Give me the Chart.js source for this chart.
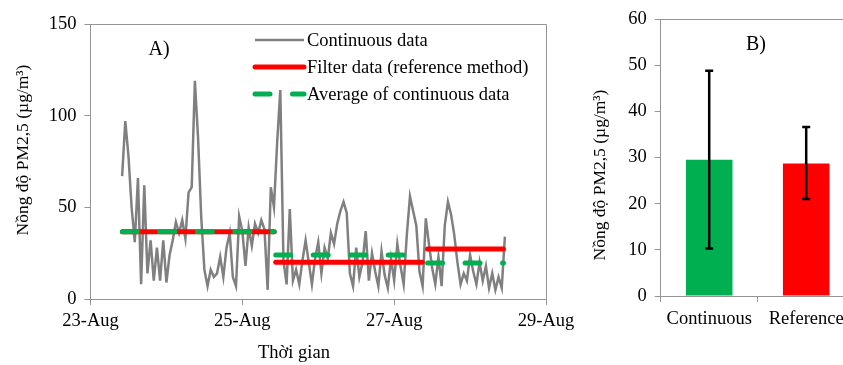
<!DOCTYPE html>
<html>
<head>
<meta charset="utf-8">
<script src="https://cdn.jsdelivr.net/npm/chart.js@4.4.1/dist/chart.umd.min.js"></script>
<style>
  html, body { margin: 0; padding: 0; background: #fff; overflow: hidden; width: 843px; height: 365px; }
  #wrapA { position: absolute; left: 0; top: 0; width: 590px; height: 365px; }
  #wrapB { position: absolute; left: 575px; top: 0; width: 300px; height: 365px; }
</style>
</head>
<body>
<div id="wrapA"><canvas id="chartA" width="590" height="365"></canvas></div>
<div id="wrapB"><canvas id="chartB" width="300" height="365"></canvas></div>
<script>
// Panel A: Zeitreihe (x in Tagen ab 23-Aug 00:00)
const xTickLabels = ['23-Aug', '25-Aug', '27-Aug', '29-Aug'];
const contStartDay = 10 / 24;   // erster Messwert 23-Aug 10:00
const contStepDay = 1 / 24;     // stündlich
const contValues = [
  67, 97, 78, 50, 31, 66, 8, 62, 14, 32, 10, 28, 10, 32, 9, 24, 32, 42, 36, 43,
  33, 58, 61, 119, 88, 45, 16, 7, 16, 12, 14, 23, 12, 28, 36, 12, 7, 45, 37, 18,
  39, 29, 41, 36, 43, 38, 5, 61, 50, 85, 114, 21, 8, 49, 10, 16, 8, 21, 32, 20,
  8, 22, 31, 14, 28, 22, 36, 30, 41, 48, 53, 47, 14, 7, 28, 12, 20, 37, 10, 25,
  15, 7, 26, 13, 6, 22, 10, 30, 18, 8, 35, 56, 48, 40, 15, 7, 44, 30, 17, 8,
  23, 7, 40, 53, 46, 35, 20, 8, 14, 10, 24, 15, 8, 20, 10, 18, 6, 14, 5, 12,
  6, 34
];
const periodStart = [0.42, 2.44, 4.44];
const periodEnd = [2.42, 4.37, 5.44];
const filterValues = [36.7, 20.0, 27.3];
const avgValues = [36.7, 24.0, 19.6];

// Panel B: Mittelwerte mit Fehlerbalken
const barLabels = ['Continuous', 'Reference'];
const barValues = [29.5, 28.7];
const barErrLow = [10.3, 21.0];
const barErrHigh = [48.8, 36.6];

const serif = "'Liberation Serif', 'Times New Roman', serif";
const axisGray = '#959595';
Chart.defaults.font.family = serif;
Chart.defaults.font.size = 18.5;
Chart.defaults.color = '#000';

// Stufenlinien mit Lücken zwischen den Perioden
function periodPoints(values) {
  const pts = [];
  values.forEach((v, i) => {
    if (i > 0) pts.push({x: periodStart[i], y: null});
    pts.push({x: periodStart[i], y: v});
    pts.push({x: periodEnd[i], y: v});
  });
  return pts;
}

const contPoints = contValues.map((v, i) => ({x: contStartDay + i * contStepDay, y: v}));

// Rahmen oben und rechts um den Plotbereich
const frame = {
  id: 'frame',
  beforeDatasetsDraw(chart) {
    const {ctx, chartArea: a} = chart;
    ctx.save();
    ctx.strokeStyle = axisGray;
    ctx.lineWidth = 1;
    ctx.beginPath();
    ctx.moveTo(a.left, Math.round(a.top) + 0.5);
    ctx.lineTo(Math.round(a.right) + 0.5, Math.round(a.top) + 0.5);
    ctx.lineTo(Math.round(a.right) + 0.5, a.bottom);
    ctx.stroke();
    ctx.restore();
  }
};

// Achsentitel und Panelbeschriftung
const notes = {
  id: 'notes',
  afterDraw(chart, args, opts) {
    const ctx = chart.ctx;
    ctx.save();
    ctx.fillStyle = '#000';
    ctx.textAlign = 'center';
    ctx.textBaseline = 'middle';
    (opts.items || []).forEach(it => {
      ctx.save();
      ctx.font = it.size + 'px ' + serif;
      ctx.translate(it.x, it.y);
      if (it.rotate) ctx.rotate(-Math.PI / 2);
      ctx.fillText(it.text, 0, 0);
      ctx.restore();
    });
    ctx.restore();
  }
};

// Legende im Plotbereich
const legendA = {
  id: 'legendA',
  afterDatasetsDraw(chart) {
    const ctx = chart.ctx;
    const rows = [40, 67, 94];
    ctx.save();
    chart.data.datasets.forEach((ds, i) => {
      const y = rows[i];
      ctx.strokeStyle = ds.borderColor;
      ctx.lineWidth = ds.borderWidth;
      ctx.lineCap = ds.borderCapStyle || 'butt';
      ctx.setLineDash(ds.borderDash || []);
      ctx.beginPath();
      ctx.moveTo(255, y);
      ctx.lineTo(304, y);
      ctx.stroke();
      ctx.setLineDash([]);
      ctx.fillStyle = '#000';
      ctx.font = '18.5px ' + serif;
      ctx.textAlign = 'left';
      ctx.textBaseline = 'middle';
      ctx.fillText(ds.label, 307, y + 1);
    });
    ctx.restore();
  }
};

// Fehlerbalken für Panel B
const errorBars = {
  id: 'errorBars',
  afterDatasetsDraw(chart) {
    const {ctx, scales} = chart;
    const meta = chart.getDatasetMeta(0);
    ctx.save();
    ctx.strokeStyle = '#000';
    ctx.lineWidth = 2.5;
    meta.data.forEach((bar, i) => {
      const yl = scales.y.getPixelForValue(barErrLow[i]);
      const yh = scales.y.getPixelForValue(barErrHigh[i]);
      ctx.beginPath();
      ctx.moveTo(bar.x, yl); ctx.lineTo(bar.x, yh);
      ctx.moveTo(bar.x - 4, yl); ctx.lineTo(bar.x + 4, yl);
      ctx.moveTo(bar.x - 4, yh); ctx.lineTo(bar.x + 4, yh);
      ctx.stroke();
    });
    ctx.restore();
  }
};

const axisGrid = { drawOnChartArea: false, drawTicks: true, tickLength: 6, color: axisGray };
const axisBorder = { display: true, color: axisGray, width: 1 };

new Chart(document.getElementById('chartA'), {
  type: 'line',
  data: {
    datasets: [
      {label: 'Continuous data', data: contPoints, borderColor: '#808080', borderWidth: 2.5,
       pointRadius: 0, tension: 0, order: 3},
      {label: 'Filter data (reference method)', data: periodPoints(filterValues), borderColor: '#FF0000',
       borderWidth: 5, borderCapStyle: 'round', pointRadius: 0, spanGaps: false, order: 2},
      {label: 'Average of continuous data', data: periodPoints(avgValues), borderColor: '#00B050',
       borderWidth: 5, borderCapStyle: 'round', borderDash: [15, 22.5], pointRadius: 0, spanGaps: false, order: 1}
    ]
  },
  options: {
    responsive: false,
    animation: false,
    events: [],
    layout: { padding: { left: 0, top: 24, right: 44, bottom: 0 } },
    scales: {
      x: {
        type: 'linear', min: 0, max: 6,
        ticks: { stepSize: 2, padding: 5, maxRotation: 0, autoSkip: false,
                 callback: (v) => xTickLabels[v / 2] },
        grid: axisGrid, border: axisBorder,
        afterFit: (s) => { s.height = 66; }
      },
      y: {
        min: 0, max: 150,
        ticks: { stepSize: 50, padding: 8 },
        grid: axisGrid, border: axisBorder,
        afterFit: (s) => { s.width = 90.5; }
      }
    },
    plugins: {
      legend: { display: false },
      tooltip: { enabled: false },
      notes: { items: [
        {text: 'A)', x: 159, y: 50, size: 20},
        {text: 'Nồng độ PM2,5 (µg/m³)', x: 23, y: 150, size: 17.5, rotate: true},
        {text: 'Thời gian', x: 294, y: 353, size: 18.5}
      ] }
    }
  },
  plugins: [frame, legendA, notes]
});

new Chart(document.getElementById('chartB'), {
  type: 'bar',
  data: {
    labels: barLabels,
    datasets: [{
      data: barValues,
      backgroundColor: ['#00B050', '#FF0000'],
      barPercentage: 0.48,
      categoryPercentage: 1
    }]
  },
  options: {
    responsive: false,
    animation: false,
    events: [],
    layout: { padding: { left: 0, top: 13, right: 20.3, bottom: 0 } },
    scales: {
      x: {
        ticks: { padding: 6 },
        grid: Object.assign({ offset: true }, axisGrid), border: axisBorder,
        afterFit: (s) => { s.height = 69; }
      },
      y: {
        min: 0, max: 60,
        ticks: { stepSize: 10, padding: 8 },
        grid: axisGrid, border: axisBorder,
        afterFit: (s) => { s.width = 85.7; }
      }
    },
    plugins: {
      legend: { display: false },
      tooltip: { enabled: false },
      notes: { items: [
        {text: 'B)', x: 181, y: 45, size: 20},
        {text: 'Nồng độ PM2,5 (µg/m³)', x: 25, y: 175, size: 17.5, rotate: true}
      ] }
    }
  },
  plugins: [frame, errorBars, notes]
});
</script>
</body>
</html>
